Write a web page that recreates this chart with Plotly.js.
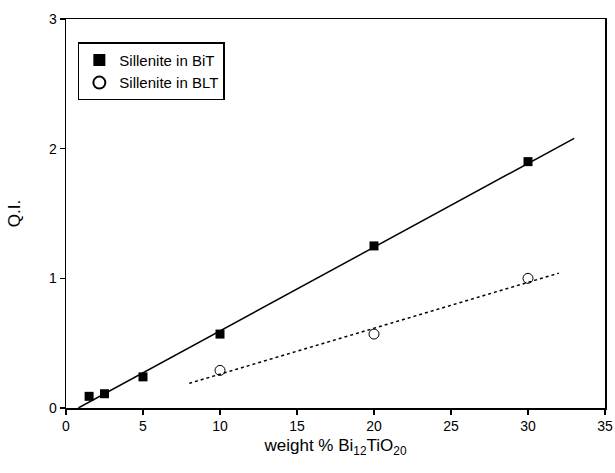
<!DOCTYPE html>
<html>
<head>
<meta charset="utf-8">
<script src="https://cdn.plot.ly/plotly-3.0.1.min.js"></script>
<style>html,body{margin:0;padding:0;background:#fff;}#chart{width:615px;height:473px;}</style>
</head>
<body>
<div id="chart"></div>
<script>
// Data
const bitX = [1.5, 2.5, 5, 10, 20, 30];
const bitY = [0.09, 0.11, 0.24, 0.57, 1.25, 1.90];
const bltX = [10, 20, 30];
const bltY = [0.29, 0.57, 1.00];
// Fitted lines (end points)
const bitFitX = [0.8, 33];
const bitFitY = [0, 2.08];
const bltFitX = [8, 32];
const bltFitY = [0.19, 1.04];
const xTicks = [0, 5, 10, 15, 20, 25, 30, 35];
const yTicks = [0, 1, 2, 3];

const font = {family: 'Liberation Sans, Arial, sans-serif', color: '#000'};

const traces = [
  {x: bitFitX, y: bitFitY, mode: 'lines', line: {color: '#000', width: 1.5}, showlegend: false, hoverinfo: 'skip'},
  {x: bltFitX, y: bltFitY, mode: 'lines', line: {color: '#000', width: 1.5, dash: 'dot'}, showlegend: false, hoverinfo: 'skip'},
  {x: bitX, y: bitY, mode: 'markers', name: 'Sillenite in BiT',
   marker: {symbol: 'square', size: 9, color: '#000'}},
  {x: bltX, y: bltY, mode: 'markers', name: 'Sillenite in BLT',
   marker: {symbol: 'circle-open', size: 10, color: '#000', line: {width: 1, color: '#000'}}}
];

const layout = {
  width: 615, height: 473,
  margin: {l: 66, r: 10, t: 19, b: 65},
  paper_bgcolor: '#fff', plot_bgcolor: '#fff',
  font: Object.assign({size: 14}, font),
  showlegend: true,
  legend: {x: 0.022, y: 0.94, xanchor: 'left', yanchor: 'top',
    bordercolor: '#000', borderwidth: 1.5, bgcolor: '#fff',
    font: Object.assign({size: 15}, font), tracegroupgap: 0, itemwidth: 30, itemsizing: 'constant'},
  xaxis: {
    range: [0, 35], tickvals: xTicks, ticktext: xTicks.map(String),
    showgrid: false, zeroline: false, showline: true, mirror: true,
    linecolor: '#000', linewidth: 1.5, ticks: 'outside', ticklen: 5, tickwidth: 1.5, tickcolor: '#000',
    tickfont: Object.assign({size: 14}, font),
    title: {text: 'weight % Bi<sub>12</sub>TiO<sub>20</sub>', font: Object.assign({size: 17}, font), standoff: 6}
  },
  yaxis: {
    range: [0, 3], tickvals: yTicks, ticktext: yTicks.map(String),
    showgrid: false, zeroline: false, showline: true, mirror: true,
    linecolor: '#000', linewidth: 1.5, ticks: 'outside', ticklen: 5, tickwidth: 1.5, tickcolor: '#000',
    tickfont: Object.assign({size: 14}, font),
    title: {text: 'Q.I.', font: Object.assign({size: 17}, font), standoff: 24}
  }
};

Plotly.newPlot('chart', traces, layout, {displayModeBar: false, staticPlot: true});
</script>
</body>
</html>
